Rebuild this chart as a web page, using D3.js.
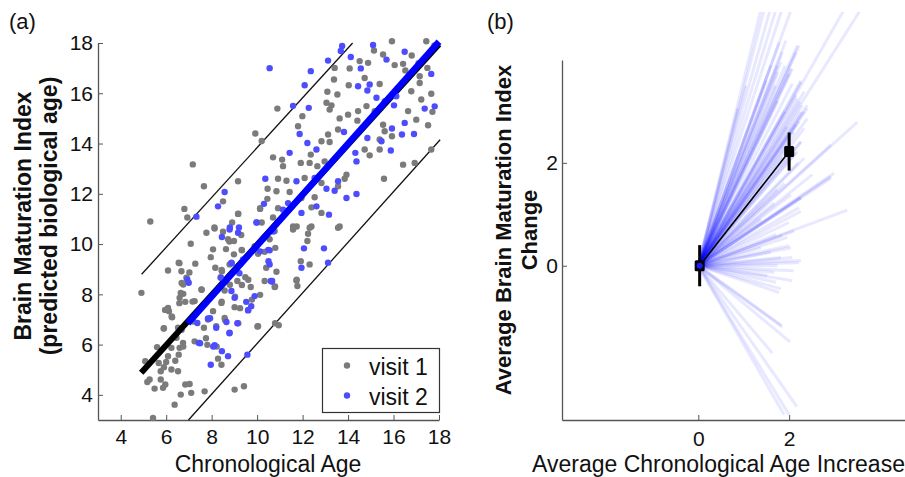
<!DOCTYPE html>
<html>
<head>
<meta charset="utf-8">
<script src="https://cdn.jsdelivr.net/npm/d3@7"></script>
<style>
  body { margin: 0; background: #fff; }
  svg { font-family: "Liberation Sans", Arial, Helvetica, sans-serif; }
</style>
</head>
<body>
<div id="chart"></div>
<script>
// ---- panel (a) data: chronological age vs predicted biological age ----
const visit1 = [
  [5.30,10.9],[7.17,13.17],[7.66,12.3],[9.16,12.5],[9.92,14.4],[10.2,14.1],[8.5,11.7],[6.8,11.4],
  [6.93,11.06],[9.16,11.2],[8.9,10.86],[8.12,10.66],[10.46,12.2],[10.45,11.8],[10.13,11.4],[10.2,10.86],
  [15.93,18.07],[15.14,17.7],[15.54,17.54],[14.51,17.28],[14.88,17.21],[14.07,16.99],[13.41,17.01],[13.38,16.55],
  [13.09,16.06],[13.53,15.95],[13.05,15.62],[13.27,15.52],[13.19,15.35],[14.03,16.32],[14.73,16.61],[15.39,16.37],
  [16.05,17.12],[16.42,17.17],[16.52,16.91],[17.44,18.07],[17.49,17.01],[17.15,16.68],[17.15,16.41],[16.78,16.08],
  [17.22,15.75],[17.66,15.98],[17.71,15.26],[17.52,14.73],[17.0,14.95],[16.64,15.29],[15.61,15.68],[15.17,15.29],
  [14.81,15.49],[14.44,15.29],[14.41,14.91],[14.0,15.15],[13.63,15.0],[13.56,14.56],[13.12,14.36],[12.83,14.09],
  [13.19,14.06],[11.8,14.69],[11.99,15.09],[10.89,15.39],[10.7,13.45],[11.14,13.1],[11.1,13.36],[11.92,13.23],
  [12.36,13.56],[12.31,13.23],[12.65,13.1],[12.97,13.29],[14.73,13.76],[14.95,13.53],[15.39,14.16],[15.61,14.49],
  [15.93,14.29],[15.54,14.75],[15.39,13.76],[15.58,12.6],[16.42,13.16],[16.93,13.23],[17.66,13.76],[10.92,12.6],
  [11.29,12.52],[11.43,12.07],[10.85,12.1],[12.09,12.63],[12.83,12.43],[13.93,12.76],[13.85,12.6],[13.56,12.3],
  [12.53,11.86],[11.95,11.83],[12.39,11.46],[12.83,11.24],[10.92,11.43],[10.7,11.06],[12.39,10.7],[11.58,10.7],
  [13.63,10.7],[4.91,8.06],[6.08,8.95],[6.55,9.26],[7.08,10.01],[7.28,9.22],[6.67,8.92],[6.89,8.66],
  [6.75,8.39],[6.64,8.06],[6.59,7.86],[6.84,7.7],[7.25,7.73],[7.55,8.19],[6.08,7.46],[6.12,7.33],
  [6.26,7.09],[6.52,6.67],[5.89,6.64],[6.45,6.27],[6.74,6.07],[6.59,5.87],[6.23,5.87],[6.08,5.54],
  [5.67,5.27],[6.0,5.31],[6.4,5.36],[6.55,5.6],[5.08,5.34],[5.17,4.51],[5.27,4.61],[5.76,4.94],
  [5.76,4.61],[5.49,4.25],[5.86,4.28],[5.96,4.41],[6.23,5.01],[6.52,4.94],[6.84,4.41],[7.03,4.43],
  [6.64,4.01],[7.1,4.08],[7.69,4.14],[6.37,3.61],[5.42,3.08],[7.47,6.07],[7.66,6.67],[7.25,6.13],
  [8.13,5.94],[8.28,5.44],[8.43,5.2],[9.01,4.21],[9.42,4.34],[8.2,6.73],[7.84,7.0],[8.06,7.33],
  [8.57,7.06],[9.01,7.49],[9.33,8.37],[9.13,8.53],[9.77,7.79],[10.04,6.73],[8.06,9.79],[8.16,9.06],
  [8.45,8.92],[8.79,9.19],[8.98,9.59],[9.33,9.75],[8.98,10.12],[9.3,10.36],[8.72,10.19],[7.77,10.45],
  [8.13,10.62],[9.89,9.92],[10.04,9.61],[10.33,9.69],[10.4,9.06],[8.57,8.15],[8.43,7.66],[9.72,8.29],
  [9.48,8.68],[10.33,8.53],[8.5,10.49],[10.77,10.52],[11.58,10.58],[12.31,10.65],[13.56,10.65],[12.24,10.41],
  [12.21,10.12],[10.8,9.85],[11.92,9.32],[12.31,9.19],[10.85,8.9],[11.73,8.55],[11.77,8.33],[10.77,8.29],
  [10.95,6.77],[10.55,10.19],[5.6,5.9],[5.9,5.1],[16.2,16.2],[16.8,17.5],[17.8,17.9],[17.1,17.2],
  [9.17,11.21],[8.78,10.1],[8.63,9.8],[9.32,9.77],[7.96,9.48],[6.58,9.24],[7.02,8.87],[6.68,8.45],
  [6.75,8.02],[7.56,8.18],[8.44,8.97],[8.4,8.68],[8.8,8.38],[9.61,8.58],[9.03,7.91],[8.44,7.71],
  [9.25,7.45],[10.13,7.98],[10.79,8.31],[11.74,8.58],[10.79,6.85],[10.01,6.72],[5.95,7.38],[6.24,7.12],
  [5.9,6.65],[7.16,7.71],[6.58,7.65],[6.68,6.59],[7.19,6.92],[7.75,6.25],[6.75,5.92],[8.22,5.92],
  [7.81,5.99],[9.17,6.85],[8.59,6.98],[10.13,11.43],[11.74,10.7]
];
const visit2 = [
  [10.55,17.0],[8.57,12.07],[8.28,11.5],[7.33,11.09],[8.8,10.66],[9.2,10.66],[10.36,12.6],[10.3,11.6],
  [9.97,10.86],[13.74,17.88],[13.68,17.68],[13.12,17.3],[12.36,16.88],[12.09,16.32],[11.58,15.5],[12.27,15.42],
  [11.87,14.38],[12.21,14.02],[12.61,13.76],[11.43,13.63],[11.73,12.5],[12.53,12.63],[13.05,12.2],[12.61,11.5],
  [13.16,11.17],[13.93,11.83],[14.37,11.99],[13.56,12.5],[13.41,12.12],[14.37,13.29],[14.32,13.63],[13.82,14.46],
  [14.85,14.22],[15.47,14.09],[15.88,13.72],[15.93,14.6],[16.37,14.36],[16.49,14.82],[16.9,14.38],[17.37,15.39],
  [17.81,15.48],[17.66,16.77],[16.49,17.65],[15.1,17.92],[14.12,17.44],[14.56,16.99],[14.44,16.28],[14.95,16.35],
  [15.69,17.34],[15.25,15.82],[16.02,15.52],[16.12,15.88],[14.85,16.11],[11.95,11.24],[11.36,11.63],[11.14,11.37],
  [6.93,8.59],[6.99,8.46],[8.45,10.28],[8.79,10.58],[9.16,10.45],[8.87,9.26],[9.38,9.39],[8.4,8.66],
  [8.87,8.13],[9.01,7.86],[9.89,7.93],[9.6,7.36],[9.74,7.53],[7.84,7.04],[8.2,6.67],[8.65,6.9],
  [8.79,6.47],[7.43,6.07],[8.13,5.98],[8.45,5.74],[8.72,5.54],[7.96,5.2],[9.57,5.6],[7.37,6.86],
  [9.52,7.7],[10.5,9.32],[10.6,8.53],[10.55,9.75],[12.06,9.83],[12.94,9.83],[10.55,9.19],[11.95,9.06],
  [13.12,9.26],[10.66,8.53],[9.98,10.86],[10.49,9.77],[10.71,10.5],[8.88,9.24],[9.22,8.84],[10.13,9.71],
  [10.64,8.51],[9.61,7.38],[7.93,7.05],[9.13,6.85],[8.78,6.45],[7.49,6.05],[8.07,5.92]
];
// fitted predictions (drawn as thick lines) and the +/- band
const fit1 = [[4.9, 4.88], [18, 17.95]];
const fit2 = [[6.95, 6.85], [18, 18.05]];
const bandUp = [[4.92, 8.8], [14.2, 18]];
const bandLow = [[6.98, 3], [18.05, 14.15]];
const ticksA = [4, 6, 8, 10, 12, 14, 16, 18];

// ---- panel (b) data: change per subject from (0,0) ----
const subjectEnd = [
  [1.55,5.6],[1.63,5.6],[1.78,5.6],[1.92,5.6],[2.07,5.6],[2.3,5.6],[3.61,5.6],[4.02,5.6],
  [1.78,4.34],[1.85,4.15],[1.91,3.89],[2.0,3.73],[2.07,3.54],[2.15,3.31],[2.24,3.19],[2.32,2.99],
  [2.4,2.86],[2.33,2.67],[2.26,2.41],[2.18,2.22],[2.33,2.09],[2.51,1.77],[2.99,1.8],[3.5,2.79],
  [1.745,3.89],[1.93,4.38],[2.22,4.28],[2.15,4.15],[2.07,3.83],[2.26,3.6],[2.33,3.38],[2.4,3.12],
  [2.26,2.99],[2.22,2.8],[1.05,3.5],[0.87,3.06],[1.5,3.6],[1.6,3.9],[1.7,3.5],[1.75,3.2],
  [1.9,3.0],[1.95,2.7],[2.0,2.4],[2.1,2.6],[2.15,2.2],[2.2,2.0],[1.85,2.1],[1.9,1.6],
  [3.28,1.08],[2.92,1.74],[2.26,1.32],[2.22,1.13],[2.0,0.84],[1.85,0.59],[2.0,0.39],[2.07,0.16],
  [2.22,0.06],[2.1,-0.1],[2.07,-0.29],[1.82,-0.45],[1.78,-0.52],[1.67,-0.13],[1.745,1.48],[2.04,1.38],
  [1.67,1.22],[1.38,0.9],[1.71,0.61],[1.38,0.35],[1.6,0.26],[1.745,0.0],[1.52,-0.19],[1.71,-0.32],
  [1.83,-1.16],[2.02,-1.48],[1.63,-1.7],[2.17,-2.74],[2.0,-2.9],[1.89,-2.9],[1.85,-1.19],
  [2.18,4.28],[2.04,3.83],[2.26,3.57],[1.82,3.96],[1.75,3.76],[2.18,3.25],[2.29,3.12],[2.4,3.06],
  [2.15,2.74],[2.26,2.41],[2.92,2.35],[2.92,1.7],[2.26,1.32],[2.26,1.06],[2.11,0.68],[1.96,0.55],
  [2.26,0.1],[2.04,0.35],[1.82,0.16]
];
const meanX = [0.03, 2.0];
const meanY = [0, 2.22];
const meanErr = [0.4, 0.37];
const ticksBx = [0, 2];
const ticksBy = [0, 2];

const W = 905, H = 477;
const svg = d3.select("#chart").append("svg").attr("width", W).attr("height", H);

function styleAxis(g) {
  g.selectAll(".domain").attr("stroke", "#555").attr("stroke-width", 1.3);
  g.selectAll(".tick line").attr("stroke", "#555").attr("stroke-width", 1);
  g.selectAll(".tick text").attr("fill", "#111").style("font-size", "21px")
    .style("font-family", "'Liberation Sans', Arial, sans-serif");
}

// ================= panel (a) =================
const xA = d3.scaleLinear().domain([3, 18]).range([98, 439]);
const yA = d3.scaleLinear().domain([3, 18]).range([420, 43]);
const lineA = d3.line().x(d => xA(d[0])).y(d => yA(d[1]));
const gA = svg.append("g");

gA.append("g").attr("transform", "translate(0,420)")
  .call(d3.axisBottom(xA).tickValues(ticksA).tickSizeInner(-5).tickSizeOuter(0).tickPadding(9))
  .call(styleAxis);
gA.append("g").attr("transform", "translate(98,0)")
  .call(d3.axisLeft(yA).tickValues(ticksA).tickSizeInner(-5).tickSizeOuter(0).tickPadding(5))
  .call(styleAxis);

[bandUp, bandLow].forEach(b => {
  gA.append("path").attr("d", lineA(b)).attr("fill", "none")
    .attr("stroke", "#111").attr("stroke-width", 1.3);
});

gA.append("g").selectAll("circle").data(visit1).join("circle")
  .attr("cx", d => xA(d[0])).attr("cy", d => yA(d[1])).attr("r", 3.2)
  .attr("fill", "#7b7b7b");
gA.append("path").attr("d", lineA(fit1)).attr("fill", "none")
  .attr("stroke", "#000").attr("stroke-width", 6);
gA.append("g").selectAll("circle").data(visit2).join("circle")
  .attr("cx", d => xA(d[0])).attr("cy", d => yA(d[1])).attr("r", 3.2)
  .attr("fill", "#4d4dff");
gA.append("path").attr("d", lineA(fit2)).attr("fill", "none")
  .attr("stroke", "#0000ff").attr("stroke-width", 6.5);

// legend
const leg = gA.append("g");
leg.append("rect").attr("x", 322.5).attr("y", 348.5).attr("width", 117).attr("height", 64)
  .attr("fill", "#fff").attr("stroke", "#333").attr("stroke-width", 1.2);
[["visit 1", "#7b7b7b"], ["visit 2", "#4d4dff"]].forEach((e, i) => {
  leg.append("circle").attr("cx", 347).attr("cy", 365.5 + i * 30).attr("r", 3.2).attr("fill", e[1]);
  leg.append("text").attr("x", 369).attr("y", 374.5 + i * 30).text(e[0])
    .style("font-size", "23px").attr("fill", "#111");
});

gA.append("text").attr("x", 268).attr("y", 472).attr("text-anchor", "middle")
  .style("font-size", "23px").attr("fill", "#111").text("Chronological Age");
gA.append("text").attr("transform", "translate(31,216) rotate(-90)").attr("text-anchor", "middle")
  .style("font-size", "23px").style("font-weight", "bold").attr("fill", "#111").text("Brain Maturation Index");
gA.append("text").attr("transform", "translate(57,216) rotate(-90)").attr("text-anchor", "middle")
  .style("font-size", "23px").style("font-weight", "bold").attr("fill", "#111").text("(predicted biological age)");
svg.append("text").attr("x", 9).attr("y", 29).style("font-size", "22px").attr("fill", "#111").text("(a)");

// ================= panel (b) =================
const xB = d3.scaleLinear().domain([-3, 4.55]).range([562, 905]);
const yB = d3.scaleLinear().domain([-3, 4]).range([420, 60]);
const lineB = d3.line().x(d => xB(d[0])).y(d => yB(d[1]));
const gB = svg.append("g");

svg.append("defs").append("clipPath").attr("id", "clipB")
  .append("rect").attr("x", 563).attr("y", 12).attr("width", 342).attr("height", 406);

gB.append("g").attr("transform", "translate(0,420)")
  .call(d3.axisBottom(xB).tickValues(ticksBx).tickFormat(d3.format("d"))
    .tickSizeInner(-5).tickSizeOuter(0).tickPadding(11))
  .call(styleAxis);
gB.append("g").attr("transform", "translate(562,0)")
  .call(d3.axisLeft(yB).tickValues(ticksBy).tickFormat(d3.format("d"))
    .tickSizeInner(-5).tickSizeOuter(0).tickPadding(4))
  .call(styleAxis);

gB.append("g").attr("clip-path", "url(#clipB)")
  .selectAll("path").data(subjectEnd).join("path")
  .attr("d", d => lineB([[0, 0], d]))
  .attr("fill", "none").attr("stroke", "#0000ff").attr("stroke-opacity", 0.09)
  .attr("stroke-width", 3);

const meanPts = meanX.map((x, i) => [x, meanY[i]]);
gB.append("path").attr("d", lineB(meanPts)).attr("fill", "none")
  .attr("stroke", "#000").attr("stroke-width", 1.6);
meanPts.forEach((p, i) => {
  gB.append("line").attr("x1", xB(p[0])).attr("x2", xB(p[0]))
    .attr("y1", yB(p[1] - meanErr[i])).attr("y2", yB(p[1] + meanErr[i]))
    .attr("stroke", "#000").attr("stroke-width", 3);
  gB.append("rect").attr("x", xB(p[0]) - 5).attr("y", yB(p[1]) - 5.5)
    .attr("width", 10).attr("height", 11).attr("rx", 1.5).attr("fill", "#000");
});
gB.append("circle").attr("cx", xB(meanX[0])).attr("cy", yB(meanY[0])).attr("r", 3).attr("fill", "#1a1aff");

gB.append("text").attr("x", 532).attr("y", 472)
  .style("font-size", "23px").attr("fill", "#111").text("Average Chronological Age Increase");
gB.append("text").attr("transform", "translate(511,230) rotate(-90)").attr("text-anchor", "middle")
  .style("font-size", "22px").style("font-weight", "bold").attr("fill", "#111").text("Average Brain Maturation Index");
gB.append("text").attr("transform", "translate(537,230) rotate(-90)").attr("text-anchor", "middle")
  .style("font-size", "22px").style("font-weight", "bold").attr("fill", "#111").text("Change");
svg.append("text").attr("x", 487).attr("y", 29).style("font-size", "22px").attr("fill", "#111").text("(b)");
</script>
</body>
</html>
